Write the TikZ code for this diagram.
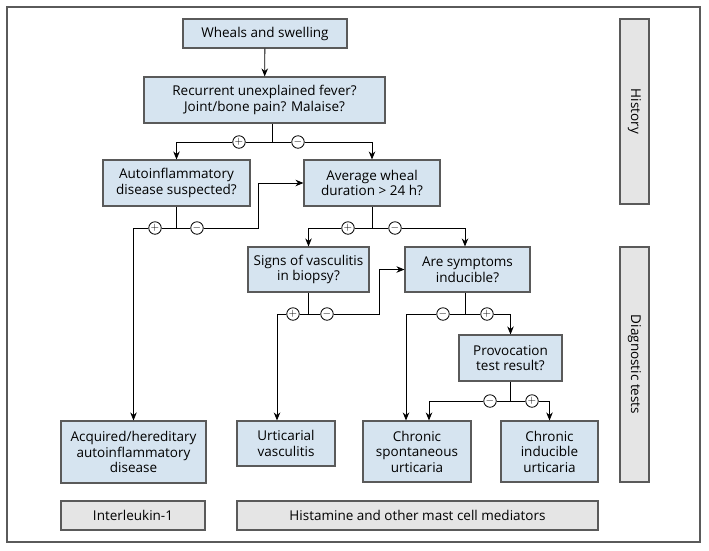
\documentclass[tikz,border=0pt]{standalone}
\usepackage{fontspec}
\setmainfont{Open Sans}
\usetikzlibrary{arrows.meta}
\definecolor{boxblue}{RGB}{214,228,240}
\definecolor{boxgray}{RGB}{229,229,229}
\definecolor{edgegray}{RGB}{90,90,90}
\tikzset{
  qbox/.style={draw=edgegray,line width=1.1pt,fill=boxblue,align=center,inner sep=0pt,
    font=\fontsize{13.5}{15.5}\selectfont},
  gbox/.style={draw=edgegray,line width=1.1pt,fill=boxgray,align=center,inner sep=0pt,
    font=\fontsize{13.5}{15.5}\selectfont},
  sign/.style={draw,circle,fill=white,inner sep=0pt,minimum size=12.5pt,line width=0.8pt,
    font=\fontsize{11}{11}\selectfont},
  link/.style={line width=0.8pt,-{Stealth[length=8pt,width=6.5pt]}},
  stem/.style={line width=0.8pt}
}
\begin{document}
\begin{tikzpicture}[x=1pt,y=-1pt]
\useasboundingbox (0,0) rectangle (709,550);
\draw[edgegray,line width=1.3pt] (7,7) rectangle (700,542);

\node[qbox,minimum width=164pt,minimum height=29pt] (wheals) at (265,33.5) {Wheals and swelling};
\node[qbox,minimum width=241pt,minimum height=46pt] (fever) at (264.5,100) {Recurrent unexplained fever?\\Joint/bone pain? Malaise?};
\node[qbox,minimum width=147pt,minimum height=46pt] (autoq) at (176.5,183) {Autoinflammatory\\disease suspected?};
\node[qbox,minimum width=136pt,minimum height=46pt] (dur) at (372,183) {Average wheal\\duration > 24 h?};
\node[qbox,minimum width=121pt,minimum height=45pt] (biopsy) at (308.5,269.5) {Signs of vasculitis\\in biopsy?};
\node[qbox,minimum width=125pt,minimum height=45pt] (induc) at (467.5,269.5) {Are symptoms\\inducible?};
\node[qbox,minimum width=103pt,minimum height=46pt] (provoc) at (510.5,358) {Provocation\\test result?};
\node[qbox,minimum width=145pt,minimum height=62pt] (aid) at (133.5,452) {Acquired/hereditary\\autoinflammatory\\disease};
\node[qbox,minimum width=98pt,minimum height=45pt] (uv) at (286,443.5) {Urticarial\\vasculitis};
\node[qbox,minimum width=108pt,minimum height=61pt] (csu) at (417,451.5) {Chronic\\spontaneous\\urticaria};
\node[qbox,minimum width=97pt,minimum height=61pt] (ciu) at (549.5,451.5) {Chronic\\inducible\\urticaria};
\node[gbox,minimum width=144pt,minimum height=29pt] (il) at (133,515.5) {Interleukin-1};
\node[gbox,minimum width=361pt,minimum height=29pt] (mast) at (417.5,515.5) {Histamine and other mast cell mediators};
\node[gbox,minimum width=29pt,minimum height=185pt] (hist) at (634.5,111.5) {};
\node[rotate=-90,font=\fontsize{13.5}{15.5}\selectfont] at (hist) {History};
\node[gbox,minimum width=29pt,minimum height=235pt] (diag) at (634.5,364.5) {};
\node[rotate=-90,font=\fontsize{13.5}{15.5}\selectfont] at (diag) {Diagnostic tests};

\draw[link] (wheals) -- (fever);

\coordinate (b1) at (272,142);
\node[sign] (p1) at (239,142) {$+$};
\node[sign] (m1) at (298,142) {$-$};
\draw[stem] (fever.south -| b1) -- (b1) -- (p1);
\draw[stem] (b1) -- (m1);
\draw[link] (p1) -| (autoq.north);
\draw[link] (m1) -| (dur.north);

\coordinate (b2) at (176.5,228);
\node[sign] (p2) at (155,228) {$+$};
\node[sign] (m2) at (197,228) {$-$};
\draw[stem] (autoq.south) -- (b2) -- (p2);
\draw[stem] (b2) -- (m2);
\draw[link] (p2) -| (aid.north);
\draw[link] (m2) -- (258,228) |- (dur.west);

\coordinate (b3) at (372,228);
\node[sign] (p3) at (348,228) {$+$};
\node[sign] (m3) at (395,228) {$-$};
\draw[stem] (dur.south) -- (b3) -- (p3);
\draw[stem] (b3) -- (m3);
\draw[link] (p3) -| (biopsy.north);
\draw[link] (m3) -| (465,0 |- induc.north);

\coordinate (b4) at (308.5,314);
\node[sign] (p4) at (293,314) {$+$};
\node[sign] (m4) at (327,314) {$-$};
\draw[stem] (biopsy.south) -- (b4) -- (p4);
\draw[stem] (b4) -- (m4);
\draw[link] (p4) -| (277,0 |- uv.north);
\draw[link] (m4) -- (379,314) |- (induc.west);

\coordinate (b5) at (465,314);
\node[sign] (m5) at (443,314) {$-$};
\node[sign] (p5) at (487,314) {$+$};
\draw[stem] (induc.south -| b5) -- (b5) -- (m5);
\draw[stem] (b5) -- (p5);
\draw[link] (m5) -| (406,0 |- csu.north);
\draw[link] (p5) -| (provoc.north);

\coordinate (b6) at (510.5,401);
\node[sign] (m6) at (490,401) {$-$};
\node[sign] (p6) at (532,401) {$+$};
\draw[stem] (provoc.south) -- (b6) -- (m6);
\draw[stem] (b6) -- (p6);
\draw[link] (m6) -| (429,0 |- csu.north);
\draw[link] (p6) -| (ciu.north);
\end{tikzpicture}
\end{document}
